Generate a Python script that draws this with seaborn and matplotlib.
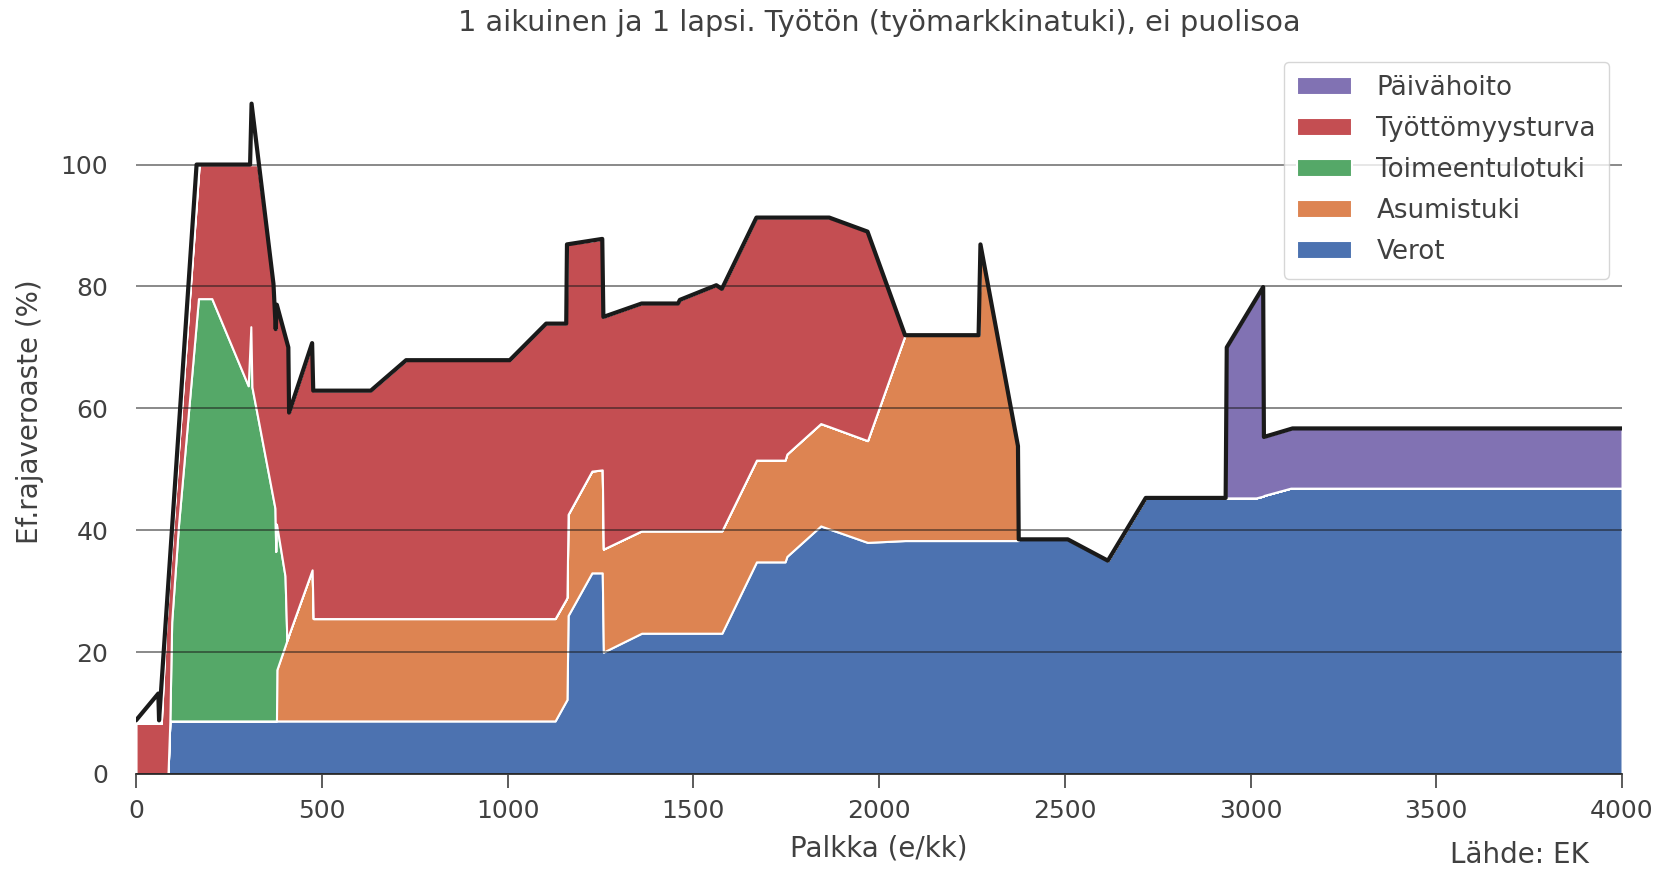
import matplotlib
matplotlib.use("Agg")
import matplotlib.pyplot as plt
import seaborn as sns

# Palkka (e/kk) -pisteet, yhteiset kaikille kerroksille
palkka = [0, 68, 80, 86, 91, 96, 114, 168, 170, 204, 302, 309, 312, 328, 370, 374,
          376, 378, 379, 401, 406, 410, 412, 474, 477, 632, 727, 1006, 1104, 1128,
          1158, 1160, 1163, 1227, 1255, 1258, 1361, 1459, 1464, 1562, 1577, 1670,
          1747, 1752, 1843, 1866, 1969, 2070, 2268, 2273, 2374, 2376, 2508, 2616,
          2718, 2933, 2936, 3015, 3034, 3036, 3108, 3113, 4000]

verot = [0, 0, 0, 0, 8.6, 8.7, 8.7, 8.7, 8.7, 8.7, 8.7, 8.7, 8.7, 8.7, 8.7, 8.7,
         8.7, 8.7, 8.7, 8.7, 8.7, 8.7, 8.7, 8.7, 8.7, 8.7, 8.7, 8.7, 8.7, 8.7,
         12.0, 12.2, 26.0, 33.0, 33.0, 20.0, 23.1, 23.1, 23.1, 23.1, 23.1, 34.8,
         34.8, 35.7, 40.7, 40.2, 38.0, 38.3, 38.3, 38.3, 38.3, 38.5, 38.5, 35.0,
         45.3, 45.3, 45.3, 45.3, 45.6, 45.7, 46.9, 46.9, 46.9]

asumistuki = [0, 0, 0, 0, 0, 0, 0, 0, 0, 0, 0, 0, 0, 0, 0, 0,
              0, 0, 8.4, 12.3, 13.2, 13.9, 14.3, 24.8, 16.8, 16.8, 16.8, 16.8, 16.8, 16.8,
              16.7, 16.8, 16.6, 16.7, 16.9, 16.9, 16.8, 16.8, 16.8, 16.8, 16.8, 16.7,
              16.7, 16.8, 16.8, 16.8, 16.7, 33.7, 33.7, 48.6, 15.5, 0, 0, 0,
              0, 0, 0, 0, 0, 0, 0, 0, 0]

toimeentulotuki = [0, 0, 0, 0, 0, 16.3, 31.9, 69.3, 69.3, 69.3, 55.0, 64.7, 54.8, 49.7, 36.2, 34.9,
                   27.8, 32.3, 23.6, 11.5, 0, 0, 0, 0, 0, 0, 0, 0, 0, 0,
                   0, 0, 0, 0, 0, 0, 0, 0, 0, 0, 0, 0,
                   0, 0, 0, 0, 0, 0, 0, 0, 0, 0, 0, 0,
                   0, 0, 0, 0, 0, 0, 0, 0, 0]

tyottomyysturva = [8.3, 8.3, 24.0, 29.1, 24.7, 12.5, 12.1, 20.3, 22.0, 22.0, 36.3, 26.6, 36.5, 41.6, 35.5, 32.4,
                   36.5, 36.0, 36.2, 39.5, 49.0, 47.4, 36.3, 37.2, 37.4, 37.4, 42.4, 42.4, 48.4, 48.4,
                   45.2, 57.9, 44.4, 37.8, 37.9, 38.1, 37.3, 37.3, 37.9, 40.3, 39.7, 39.8,
                   39.8, 38.8, 33.8, 34.3, 34.3, 0, 0, 0, 0, 0, 0, 0,
                   0, 0, 0, 0, 0, 0, 0, 0, 0]

paivahoito = [0, 0, 0, 0, 0, 0, 0, 0, 0, 0, 0, 0, 0, 0, 0, 0,
              0, 0, 0, 0, 0, 0, 0, 0, 0, 0, 0, 0, 0, 0,
              0, 0, 0, 0, 0, 0, 0, 0, 0, 0, 0, 0,
              0, 0, 0, 0, 0, 0, 0, 0, 0, 0, 0, 0,
              0, 0, 24.7, 32.7, 34.3, 9.6, 9.7, 9.8, 9.8]

# Efektiivinen rajaveroaste yhteensä (musta viiva)
kokonais_x = [0, 60, 62, 163, 307, 311, 370, 376, 379, 410, 412, 474, 477, 632, 727,
              1006, 1104, 1158, 1160, 1255, 1258, 1361, 1459, 1464, 1562, 1577, 1670,
              1866, 1969, 2070, 2268, 2273, 2374, 2376, 2508, 2616, 2718, 2933, 2936,
              3034, 3036, 3113, 4000]
kokonais_y = [8.8, 13.2, 8.8, 100, 100, 110, 80.4, 73, 77, 70, 59.3, 70.7, 62.9, 62.9, 67.9,
              67.9, 73.9, 73.9, 86.9, 87.8, 75.0, 77.2, 77.2, 77.8, 80.2, 79.6, 91.3,
              91.3, 89.0, 72.0, 72.0, 86.9, 53.8, 38.5, 38.5, 35.0, 45.3, 45.3, 70.0,
              79.9, 55.3, 56.7, 56.7]

nimet = ["Verot", "Asumistuki", "Toimeentulotuki", "Työttömyysturva", "Päivähoito"]

sns.set_theme(style="ticks")
plt.rcParams['font.family'] = ['DejaVu Sans']
plt.rcParams['text.color'] = '.25'
plt.rcParams['axes.labelcolor'] = '.25'
plt.rcParams['xtick.color'] = '.25'
plt.rcParams['ytick.color'] = '.25'
deep = sns.color_palette("deep")

fig, ax = plt.subplots(figsize=(16.65, 8.71), dpi=100)
fig.subplots_adjust(left=0.0817, right=0.9742, bottom=0.1114, top=0.944)

ax.stackplot(palkka, verot, asumistuki, toimeentulotuki, tyottomyysturva, paivahoito,
             labels=nimet, colors=[deep[0], deep[1], deep[2], deep[3], deep[4]],
             edgecolor="white", linewidth=1.5)
sns.lineplot(x=kokonais_x, y=kokonais_y, color=".1", linewidth=3, ax=ax,
             estimator=None, sort=False, zorder=3)

ax.yaxis.grid(True, color="k", alpha=0.65, linewidth=1.1)
ax.set_axisbelow(False)

ax.set_xlim(0, 4000)
ax.set_ylim(0, 119)
ax.set_xticks(range(0, 4001, 500))
ax.set_yticks(range(0, 101, 20))
ax.tick_params(axis="x", labelsize=18, length=10, width=1.2, pad=8)
ax.tick_params(axis="y", labelsize=18, length=0, pad=20)
sns.despine(ax=ax, left=True)

ax.set_xlabel("Palkka (e/kk)", fontsize=20, labelpad=8)
ax.set_ylabel("Ef.rajaveroaste (%)", fontsize=20, labelpad=12)
ax.set_title("1 aikuinen ja 1 lapsi. Työtön (työmarkkinatuki), ei puolisoa", fontsize=20.7, pad=13)

handles, labels = ax.get_legend_handles_labels()
ax.legend(handles[::-1], labels[::-1], loc="upper right", fontsize=18.8,
          handlelength=2.1, handletextpad=0.95, labelspacing=0.58, borderpad=0.5)

fig.text(0.954, 0.018, "Lähde: EK", ha="right", va="center", fontsize=20)

fig.savefig("out.png", dpi=100)
